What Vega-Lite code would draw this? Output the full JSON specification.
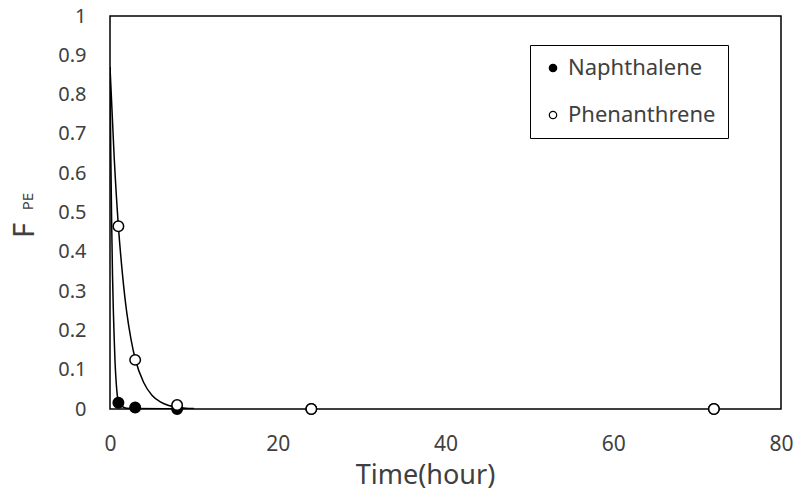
{
  "$schema": "https://vega.github.io/schema/vega-lite/v6.json",
  "width": 671,
  "height": 393,
  "autosize": "none",
  "padding": {"left": 110, "top": 16, "right": 15, "bottom": 92},
  "background": "white",
  "config": {
    "font": "Noto Sans",
    "view": {"stroke": "black", "strokeWidth": 1.5},
    "axis": {
      "grid": false,
      "domain": false,
      "ticks": false,
      "labelFlush": false,
      "labelFont": "Noto Sans",
      "labelColor": "#404040",
      "titleFont": "Noto Sans",
      "titleColor": "#404040",
      "titleFontWeight": "normal"
    }
  },
  "datasets": {
    "fit": [
      {"series": "Naphthalene", "time": 0, "fpe": 0.87},
      {"series": "Naphthalene", "time": 0.1, "fpe": 0.64},
      {"series": "Naphthalene", "time": 0.2, "fpe": 0.47},
      {"series": "Naphthalene", "time": 0.3, "fpe": 0.34},
      {"series": "Naphthalene", "time": 0.4, "fpe": 0.25},
      {"series": "Naphthalene", "time": 0.5, "fpe": 0.18},
      {"series": "Naphthalene", "time": 0.6, "fpe": 0.12},
      {"series": "Naphthalene", "time": 0.7, "fpe": 0.08},
      {"series": "Naphthalene", "time": 0.8, "fpe": 0.05},
      {"series": "Naphthalene", "time": 1, "fpe": 0.02},
      {"series": "Naphthalene", "time": 1.5, "fpe": 0.006},
      {"series": "Naphthalene", "time": 2, "fpe": 0.002},
      {"series": "Naphthalene", "time": 3, "fpe": 0.001},
      {"series": "Naphthalene", "time": 10, "fpe": 0},
      {"series": "Phenanthrene", "time": 0, "fpe": 0.87},
      {"series": "Phenanthrene", "time": 0.5, "fpe": 0.64},
      {"series": "Phenanthrene", "time": 1, "fpe": 0.465},
      {"series": "Phenanthrene", "time": 1.5, "fpe": 0.34},
      {"series": "Phenanthrene", "time": 2, "fpe": 0.245},
      {"series": "Phenanthrene", "time": 2.5, "fpe": 0.178},
      {"series": "Phenanthrene", "time": 3, "fpe": 0.128},
      {"series": "Phenanthrene", "time": 4, "fpe": 0.068},
      {"series": "Phenanthrene", "time": 5, "fpe": 0.035},
      {"series": "Phenanthrene", "time": 6, "fpe": 0.018},
      {"series": "Phenanthrene", "time": 7, "fpe": 0.009},
      {"series": "Phenanthrene", "time": 8, "fpe": 0.005},
      {"series": "Phenanthrene", "time": 9, "fpe": 0.002},
      {"series": "Phenanthrene", "time": 10, "fpe": 0.001}
    ],
    "measured": [
      {"series": "Naphthalene", "time": 1, "fpe": 0.016},
      {"series": "Naphthalene", "time": 3, "fpe": 0.004},
      {"series": "Naphthalene", "time": 8, "fpe": 0},
      {"series": "Naphthalene", "time": 24, "fpe": 0},
      {"series": "Naphthalene", "time": 72, "fpe": 0},
      {"series": "Phenanthrene", "time": 1, "fpe": 0.465},
      {"series": "Phenanthrene", "time": 3, "fpe": 0.125},
      {"series": "Phenanthrene", "time": 8, "fpe": 0.01},
      {"series": "Phenanthrene", "time": 24, "fpe": 0},
      {"series": "Phenanthrene", "time": 72, "fpe": 0}
    ]
  },
  "layer": [
    {
      "data": {"name": "fit"},
      "mark": {"type": "line", "color": "black", "strokeWidth": 1.5, "interpolate": "monotone", "clip": true},
      "encoding": {
        "x": {
          "field": "time", "type": "quantitative",
          "scale": {"domain": [0, 80], "nice": false},
          "axis": {
            "values": [0, 20, 40, 60, 80],
            "labelFontSize": 21,
            "labelPadding": 24,
            "title": "Time(hour)",
            "titleFontSize": 27,
            "titlePadding": 8,
            "titleX": 315,
            "titleAlign": "center"
          }
        },
        "y": {
          "field": "fpe", "type": "quantitative",
          "scale": {"domain": [0, 1], "nice": false},
          "axis": {
            "values": [0, 0.1, 0.2, 0.3, 0.4, 0.5, 0.6, 0.7, 0.8, 0.9, 1],
            "format": ".1~f",
            "labelFontSize": 20,
            "labelPadding": 24,
            "title": "F",
            "titleFontSize": 29,
            "titleAngle": 270,
            "titleBaseline": "alphabetic",
            "titleX": -77,
            "titleY": 214,
            "titleAlign": "center"
          }
        },
        "detail": {"field": "series"}
      }
    },
    {
      "data": {"name": "measured"},
      "mark": {"type": "point", "shape": "circle", "filled": true, "size": 110, "stroke": "black", "strokeWidth": 1.5, "opacity": 1},
      "encoding": {
        "x": {"field": "time", "type": "quantitative"},
        "y": {
          "field": "fpe", "type": "quantitative",
          "axis": {
            "orient": "right",
            "labels": false,
            "values": [],
            "title": "PE",
            "titleFontSize": 15,
            "titleAngle": 270,
            "titleBaseline": "alphabetic",
            "titleX": -749,
            "titleY": 185,
            "titleAlign": "center"
          }
        },
        "fill": {
          "field": "series", "type": "nominal",
          "scale": {"domain": ["Naphthalene", "Phenanthrene"], "range": ["black", "white"]},
          "legend": {
            "title": null,
            "orient": "none",
            "legendX": 420,
            "legendY": 29,
            "strokeColor": "black",
            "fillColor": "white",
            "padding": 12,
            "rowPadding": 25,
            "labelFont": "Noto Sans",
            "labelFontSize": 22,
            "labelColor": "#404040",
            "labelOffset": 4,
            "symbolType": "circle",
            "symbolSize": 55,
            "symbolStrokeColor": "black",
            "symbolStrokeWidth": 1.2
          }
        }
      }
    }
  ],
  "resolve": {"axis": {"y": "independent"}}
}
